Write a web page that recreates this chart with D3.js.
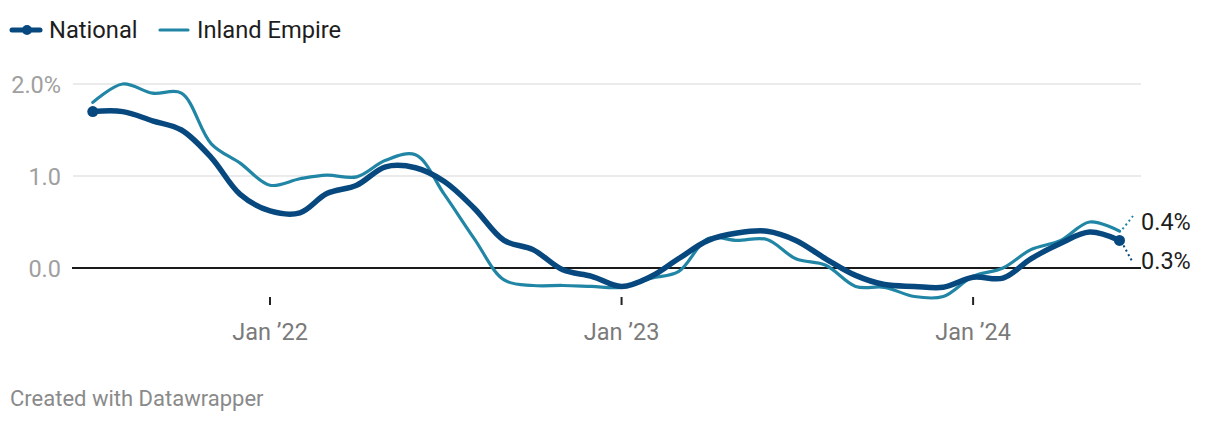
<!DOCTYPE html>
<html><head><meta charset="utf-8">
<script src="https://cdn.jsdelivr.net/npm/d3@7"></script>
<style>
body{margin:0;background:#fff;font-family:Roboto,"Noto Sans",sans-serif;}
svg{display:block}
</style></head><body>
<svg id="c" width="1220" height="424"></svg>
<script>
const months = ["2021-07","2021-08","2021-09","2021-10","2021-11","2021-12",
"2022-01","2022-02","2022-03","2022-04","2022-05","2022-06","2022-07","2022-08","2022-09","2022-10","2022-11","2022-12",
"2023-01","2023-02","2023-03","2023-04","2023-05","2023-06","2023-07","2023-08","2023-09","2023-10","2023-11","2023-12",
"2024-01","2024-02","2024-03","2024-04","2024-05","2024-06"];
const national = [1.70,1.70,1.60,1.50,1.20,0.80,0.62,0.60,0.81,0.90,1.10,1.09,0.94,0.65,0.30,0.20,-0.02,-0.09,
-0.20,-0.09,0.10,0.30,0.38,0.40,0.30,0.10,-0.08,-0.18,-0.20,-0.21,-0.10,-0.11,0.10,0.27,0.39,0.30];
const inland = [1.80,2.00,1.90,1.90,1.35,1.14,0.90,0.97,1.01,0.99,1.17,1.23,0.80,0.32,-0.13,-0.19,-0.19,-0.20,
-0.21,-0.11,-0.04,0.32,0.30,0.31,0.10,0.03,-0.20,-0.21,-0.31,-0.31,-0.09,0.00,0.20,0.30,0.50,0.40];
const yTicks = [0,1,2];
const yTickLabels = ["0.0","1.0","2.0%"];
const xTicks = ["2022-01","2023-01","2024-01"];
const xTickLabels = ["Jan ’22","Jan ’23","Jan ’24"];
const seriesNames = ["National","Inland Empire"];
const colors = ["#07497f","#2186a5"];

const parse = d3.timeParse("%Y-%m");
const dates = months.map(parse);
const svg = d3.select("#c");
const x = d3.scaleTime().domain([dates[0], dates[dates.length-1]]).range([92.8, 1119.5]);
const y = d3.scaleLinear().domain([0,2]).range([268,84]);
const gridX0 = 73, gridX1 = 1141;

// grid
svg.append("g").selectAll("line").data(yTicks.filter(d=>d!==0)).join("line")
  .attr("x1",gridX0).attr("x2",gridX1).attr("y1",d=>y(d)).attr("y2",d=>y(d))
  .attr("stroke","#e5e5e5").attr("stroke-width",1.5);
svg.append("g").selectAll("text").data(yTicks).join("text")
  .attr("x",61).attr("y",d=>y(d)+8.5).attr("text-anchor","end")
  .attr("font-size",23.5).attr("fill","#a0a0a0").text((d,i)=>yTickLabels[i]);

// x axis ticks
const xt = xTicks.map(parse);
svg.append("g").selectAll("line").data(xt).join("line")
  .attr("x1",d=>x(d)).attr("x2",d=>x(d)).attr("y1",297).attr("y2",305)
  .attr("stroke","#222").attr("stroke-width",2);
svg.append("g").selectAll("text").data(xt).join("text")
  .attr("x",d=>x(d)).attr("y",340).attr("text-anchor","middle")
  .attr("font-size",23.5).attr("fill","#7a7a7a").text((d,i)=>xTickLabels[i]);

// zero line
svg.append("line").attr("x1",gridX0-1).attr("x2",gridX1).attr("y1",y(0)).attr("y2",y(0))
  .attr("stroke","#1a1a1a").attr("stroke-width",2);

const line = d3.line().x((d,i)=>x(dates[i])).y(d=>y(d)).curve(d3.curveCatmullRom.alpha(0.5));
svg.append("path").attr("d",line(inland)).attr("fill","none").attr("stroke",colors[1])
  .attr("stroke-width",3.2).attr("stroke-linejoin","round").attr("stroke-linecap","round");
svg.append("path").attr("d",line(national)).attr("fill","none").attr("stroke",colors[0])
  .attr("stroke-width",5.5).attr("stroke-linejoin","round").attr("stroke-linecap","round");

// end dots
const last = dates.length-1;
[0,last].forEach(i=>{
  svg.append("circle").attr("cx",x(dates[i])).attr("cy",y(national[i])).attr("r",5.5).attr("fill",colors[0]);
});

// end labels with dotted connectors
const lx = 1141;
const labInY = 230, labNatY = 268.5;
svg.append("line").attr("x1",x(dates[last])+3).attr("y1",y(inland[last])-2)
  .attr("x2",1133).attr("y2",216).attr("stroke",colors[1]).attr("stroke-width",2).attr("stroke-dasharray","2,3");
svg.append("line").attr("x1",x(dates[last])+4).attr("y1",y(national[last])+5)
  .attr("x2",1133).attr("y2",263).attr("stroke",colors[0]).attr("stroke-width",2).attr("stroke-dasharray","2,3");
svg.append("text").attr("x",lx).attr("y",labInY).attr("font-size",23.5).attr("fill","#1d1d1d")
  .text(d3.format(".1f")(inland[last])+"%");
svg.append("text").attr("x",lx).attr("y",labNatY).attr("font-size",23.5).attr("fill","#1d1d1d")
  .text(d3.format(".1f")(national[last])+"%");

// legend
const lg = svg.append("g");
lg.append("line").attr("x1",12).attr("x2",40).attr("y1",30).attr("y2",30).attr("stroke",colors[0])
  .attr("stroke-width",5).attr("stroke-linecap","round");
lg.append("circle").attr("cx",27).attr("cy",30).attr("r",5).attr("fill",colors[0]);
lg.append("text").attr("x",49).attr("y",38).attr("font-size",23.7).attr("fill","#1d1d1d").text(seriesNames[0]);
lg.append("line").attr("x1",160).attr("x2",188).attr("y1",30).attr("y2",30).attr("stroke",colors[1])
  .attr("stroke-width",3.2).attr("stroke-linecap","round");
lg.append("text").attr("x",197).attr("y",38).attr("font-size",23.7).attr("fill","#1d1d1d").text(seriesNames[1]);

svg.append("text").attr("x",10).attr("y",406).attr("font-size",22).attr("fill","#8a8a8a").text("Created with Datawrapper");
</script>
</body></html>
